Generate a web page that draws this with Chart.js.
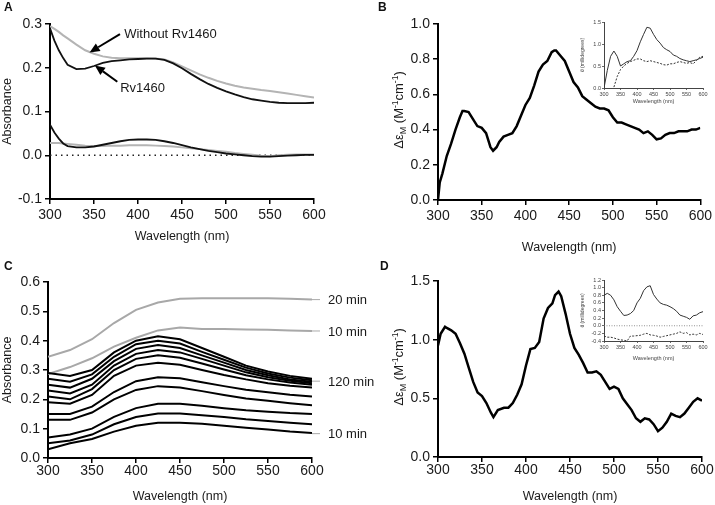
<!DOCTYPE html>
<html><head><meta charset="utf-8">
<script src="https://cdn.jsdelivr.net/npm/chart.js@4"></script>
<style>
body{margin:0;background:#fff;}
#wrap{position:relative;width:715px;height:505px;overflow:hidden;background:#fff;font-family:"Liberation Sans",Arial,sans-serif;}
canvas{position:absolute;}
.lbl{position:absolute;font-weight:bold;font-size:12px;line-height:12px;color:#111;}
</style></head>
<body><div id="wrap">
<canvas id="cA" width="340" height="250" style="left:0;top:0"></canvas>
<canvas id="cB" width="355" height="261" style="left:360px;top:0"></canvas>
<canvas id="cC" width="375" height="255" style="left:0;top:250px"></canvas>
<canvas id="cD" width="355" height="255" style="left:360px;top:250px"></canvas>
<canvas id="cBi" width="130" height="110" style="left:580px;top:0px"></canvas>
<canvas id="cDi" width="130" height="100" style="left:580px;top:265px"></canvas>
<div class="lbl" style="left:4px;top:1px">A</div>
<div class="lbl" style="left:378px;top:1px">B</div>
<div class="lbl" style="left:4px;top:260px">C</div>
<div class="lbl" style="left:380px;top:260px">D</div>
</div>
<script>
// ---------------- data ----------------
const X_TICKS = [300,350,400,450,500,550,600];

// Panel A
const WL_A = [300,305,310,315,320,330,340,350,360,370,380,390,400,410,420,430,440,450,460,470,480,490,500,510,520,530,540,550,560,570,580,590,600];
const A_RV1460 = [0.29,0.262,0.24,0.222,0.207,0.197,0.198,0.204,0.211,0.215,0.217,0.219,0.22,0.221,0.221,0.218,0.21,0.199,0.186,0.174,0.163,0.154,0.146,0.139,0.133,0.128,0.125,0.122,0.12,0.119,0.119,0.119,0.12];
const A_WITHOUT = [0.295,0.289,0.282,0.274,0.267,0.253,0.24,0.232,0.226,0.223,0.222,0.222,0.222,0.222,0.221,0.219,0.212,0.203,0.194,0.185,0.177,0.17,0.164,0.159,0.155,0.152,0.149,0.147,0.144,0.141,0.138,0.135,0.132];
const A_RV1460_DIFF = [0.07,0.052,0.038,0.027,0.021,0.018,0.018,0.02,0.024,0.028,0.032,0.035,0.036,0.036,0.035,0.032,0.028,0.023,0.018,0.014,0.01,0.007,0.004,0.002,0.0,-0.002,-0.003,-0.003,-0.002,-0.001,0.0,0.001,0.001];
const A_WITHOUT_DIFF = [0.028,0.028,0.028,0.027,0.026,0.024,0.022,0.021,0.021,0.022,0.022,0.023,0.023,0.023,0.022,0.021,0.02,0.018,0.016,0.014,0.012,0.01,0.008,0.005,0.003,0.001,-0.001,-0.002,0.0,0.001,0.002,0.002,0.002];
const A_Y_TICKS = [-0.1,0.0,0.1,0.2,0.3];
const A_NOTES = [
  {text:'Without Rv1460', textX:382, textY:0.277, tailX:379.5, tailY:0.277, headX:345, headY:0.235},
  {text:'Rv1460', textX:377.5, textY:0.152, tailX:376.5, tailY:0.168, headX:351, headY:0.205}
];

// Panel B
const WL_B = [300,302,305,310,315,320,325,328,330,335,340,345,350,355,360,363,367,370,375,380,385,390,395,400,405,410,415,420,425,430,433,435,440,445,450,455,460,465,470,475,480,485,490,495,500,505,510,515,520,525,530,535,540,545,550,555,560,565,570,575,580,585,590,595,600];
const B_CD = [0,0.1,0.15,0.25,0.32,0.4,0.47,0.505,0.505,0.5,0.46,0.42,0.41,0.38,0.3,0.28,0.3,0.33,0.36,0.37,0.38,0.42,0.48,0.54,0.58,0.65,0.73,0.77,0.79,0.84,0.85,0.85,0.82,0.79,0.73,0.67,0.64,0.59,0.57,0.55,0.53,0.52,0.52,0.51,0.47,0.44,0.44,0.43,0.42,0.41,0.4,0.38,0.39,0.37,0.345,0.35,0.37,0.38,0.38,0.39,0.39,0.39,0.4,0.4,0.41];
const B_Y_TICKS = [0.0,0.2,0.4,0.6,0.8,1.0];

// Insets
const WL_INSET = [300,310,320,330,340,350,360,370,380,390,400,410,420,430,440,450,460,470,480,490,500,510,520,530,540,550,560,570,580,590,600];
const B_IN_SOLID = [0.0,0.4,0.72,0.84,0.72,0.5,0.55,0.6,0.62,0.72,0.85,1.05,1.22,1.38,1.36,1.22,1.1,1.02,0.92,0.87,0.83,0.75,0.72,0.67,0.64,0.62,0.6,0.62,0.64,0.67,0.7];
const B_IN_DASHED = [null,null,null,0.02,0.26,0.42,0.5,0.56,0.6,0.63,0.66,0.66,0.62,0.6,0.62,0.6,0.58,0.56,0.53,0.52,0.55,0.55,0.58,0.6,0.58,0.56,0.58,0.55,0.62,0.7,0.72];
const B_IN_Y_TICKS = [0.0,0.5,1.0,1.5];
const D_IN_SOLID = [0.8,0.85,0.8,0.68,0.5,0.38,0.27,0.28,0.32,0.4,0.6,0.72,0.92,1.02,1.05,0.82,0.7,0.6,0.56,0.54,0.5,0.45,0.38,0.28,0.25,0.22,0.17,0.26,0.28,0.34,0.37];
const D_IN_DASHED = [-0.27,-0.3,-0.3,-0.32,-0.35,-0.37,-0.38,-0.4,-0.27,-0.27,-0.26,-0.25,-0.22,-0.2,-0.24,-0.25,-0.27,-0.3,-0.28,-0.26,-0.24,-0.22,-0.2,-0.16,-0.2,-0.18,-0.24,-0.22,-0.24,-0.2,-0.23];
const D_IN_Y_TICKS = [-0.4,-0.2,0.0,0.2,0.4,0.6,0.8,1.0,1.2];

// Panel C
const WL_C = [300,325,350,375,400,425,450,475,500,525,550,575,600];
const C_GRAY_20 = [0.345,0.368,0.405,0.46,0.505,0.53,0.543,0.545,0.545,0.545,0.545,0.543,0.54];
const C_GRAY_10 = [0.286,0.31,0.34,0.38,0.41,0.435,0.445,0.44,0.44,0.438,0.437,0.435,0.433];
const C_BLACK_120 = [0.29,0.28,0.30,0.36,0.40,0.415,0.405,0.375,0.345,0.315,0.295,0.28,0.27];
const C_BLACK_9 = [0.27,0.26,0.285,0.345,0.388,0.40,0.39,0.362,0.335,0.308,0.288,0.274,0.265];
const C_BLACK_8 = [0.25,0.24,0.27,0.33,0.372,0.385,0.375,0.35,0.325,0.30,0.282,0.268,0.26];
const C_BLACK_7 = [0.23,0.22,0.25,0.315,0.355,0.368,0.36,0.338,0.315,0.292,0.275,0.263,0.255];
const C_BLACK_6 = [0.21,0.20,0.235,0.30,0.338,0.35,0.342,0.322,0.302,0.282,0.268,0.257,0.25];
const C_BLACK_5 = [0.19,0.185,0.215,0.28,0.315,0.325,0.318,0.30,0.283,0.268,0.255,0.246,0.24];
const C_BLACK_4 = [0.15,0.15,0.175,0.225,0.262,0.275,0.272,0.258,0.245,0.233,0.224,0.216,0.21];
const C_BLACK_3 = [0.13,0.13,0.155,0.20,0.232,0.245,0.24,0.228,0.215,0.203,0.195,0.187,0.18];
const C_BLACK_2 = [0.07,0.08,0.10,0.14,0.17,0.185,0.185,0.178,0.17,0.163,0.158,0.153,0.15];
const C_BLACK_1 = [0.05,0.06,0.08,0.115,0.14,0.152,0.152,0.146,0.14,0.132,0.126,0.12,0.115];
const C_BLACK_10 = [0.03,0.05,0.065,0.09,0.11,0.12,0.12,0.117,0.11,0.103,0.097,0.09,0.085];
const C_Y_TICKS = [0.0,0.1,0.2,0.3,0.4,0.5,0.6];
const C_LABELS = ['20 min','10 min','120 min','10 min'];
const C_LABEL_VALUES = [0.54,0.433,0.262,0.083];

// Panel D
const WL_D = [300,303,308,310,315,320,325,330,335,340,345,350,355,360,363,368,375,380,385,390,395,400,405,410,415,420,425,430,433,437,440,445,450,455,460,465,470,475,480,485,490,495,500,505,510,515,520,525,530,535,540,545,550,555,560,565,570,575,580,585,590,595,600];
const D_CD = [0.95,1.05,1.11,1.1,1.08,1.05,0.97,0.88,0.76,0.64,0.55,0.52,0.46,0.38,0.34,0.4,0.42,0.42,0.46,0.53,0.62,0.78,0.92,0.93,0.98,1.18,1.27,1.31,1.38,1.41,1.37,1.22,1.05,0.93,0.87,0.8,0.72,0.72,0.73,0.7,0.64,0.58,0.6,0.58,0.5,0.45,0.4,0.33,0.3,0.33,0.32,0.28,0.22,0.25,0.3,0.37,0.35,0.34,0.37,0.42,0.47,0.5,0.48];
const D_Y_TICKS = [0.0,0.5,1.0,1.5];

// ---------------- helpers ----------------
const FONT = '"Liberation Sans", Arial, Helvetica, sans-serif';
const pts = (xs, ys) => xs.map((x, i) => ({x: x, y: ys[i]}));
function line(xs, ys, color, width, dash) {
  return {data: pts(xs, ys), borderColor: color, borderWidth: width, borderDash: dash || [],
    pointRadius: 0, showLine: true, fill: false, tension: 0, spanGaps: false};
}
function scales(c) {
  const grid = {drawOnChartArea: false, drawTicks: true, tickLength: c.tickLen, color: c.axisColor, lineWidth: c.tickW};
  const border = {display: true, color: c.axisColor, width: c.axisW};
  return {
    x: {type: 'linear', min: 300, max: 600,
      afterBuildTicks: s => { s.ticks = X_TICKS.map(v => ({value: v})); },
      afterFit: s => { s.height = c.xH; },
      grid: grid, border: border,
      ticks: {color: c.textColor, font: {family: FONT, size: c.tickSize}, padding: c.xPad, maxRotation: 0, autoSkip: false,
        callback: v => String(v)},
      title: {display: true, text: 'Wavelength (nm)', color: c.textColor, font: {family: FONT, size: c.titleSize},
        padding: {top: 0, bottom: c.titlePadB}}},
    y: {type: 'linear', min: c.yMin, max: c.yMax,
      afterBuildTicks: s => { s.ticks = c.yTicks.map(v => ({value: v})); },
      afterFit: s => { s.width = c.yW; },
      grid: grid, border: border,
      ticks: {color: c.textColor, font: {family: FONT, size: c.tickSize}, padding: c.yPad, autoSkip: false,
        callback: v => Number(v).toFixed(1)},
      title: {display: !!c.yTitle, text: c.yTitle || '', color: c.textColor, font: {family: FONT, size: c.yTitleSize || c.titleSize},
        padding: {top: c.yTitlePad || 0, bottom: 0}}}
  };
}
function make(id, datasets, sc, padding, plugins) {
  return new Chart(document.getElementById(id), {
    type: 'scatter',
    data: {datasets: datasets},
    options: {responsive: false, animation: false, devicePixelRatio: 1, events: [],
      layout: {padding: padding},
      plugins: {legend: {display: false}, tooltip: {enabled: false}},
      scales: sc},
    plugins: plugins || []
  });
}
const MAIN = {tickLen: 5, tickW: 1.5, axisColor: '#000', axisW: 2, textColor: '#1a1a1a', tickSize: 14, titleSize: 12.5, xPad: 3, yPad: 3};
const INSET = {tickLen: 2, tickW: 0.8, axisColor: '#444', axisW: 1, textColor: '#444', tickSize: 5.5, titleSize: 5.5, xPad: 1, yPad: 1};

function arrow(ctx, x1, y1, x2, y2) {
  const a = Math.atan2(y2 - y1, x2 - x1), L = 10, W = 4.5;
  const bx = x2 - L * Math.cos(a), by = y2 - L * Math.sin(a);
  ctx.beginPath(); ctx.moveTo(x1, y1); ctx.lineTo(bx, by);
  ctx.lineWidth = 2; ctx.strokeStyle = '#000'; ctx.stroke();
  ctx.beginPath(); ctx.moveTo(x2, y2);
  ctx.lineTo(bx - W * Math.sin(a), by + W * Math.cos(a));
  ctx.lineTo(bx + W * Math.sin(a), by - W * Math.cos(a));
  ctx.closePath(); ctx.fillStyle = '#000'; ctx.fill();
}
const notesPlugin = {id: 'notesA', afterDraw(chart) {
  const ctx = chart.ctx, x = chart.scales.x, y = chart.scales.y;
  ctx.save();
  ctx.font = '13px ' + FONT; ctx.fillStyle = '#1a1a1a'; ctx.textAlign = 'left'; ctx.textBaseline = 'middle';
  A_NOTES.forEach(n => {
    arrow(ctx, x.getPixelForValue(n.tailX), y.getPixelForValue(n.tailY), x.getPixelForValue(n.headX), y.getPixelForValue(n.headY));
    ctx.fillStyle = '#1a1a1a';
    ctx.fillText(n.text, x.getPixelForValue(n.textX) + 2, y.getPixelForValue(n.textY));
  });
  ctx.restore();
}};
const cLabelPlugin = {id: 'labelsC', afterDraw(chart) {
  const ctx = chart.ctx, y = chart.scales.y, r = chart.chartArea.right;
  ctx.save();
  ctx.font = '13px ' + FONT; ctx.textAlign = 'left'; ctx.textBaseline = 'middle';
  C_LABELS.forEach((t, i) => {
    const py = y.getPixelForValue(C_LABEL_VALUES[i]);
    ctx.beginPath(); ctx.moveTo(r, py); ctx.lineTo(r + 8, py);
    ctx.strokeStyle = '#aaa'; ctx.lineWidth = 1; ctx.stroke();
    ctx.fillStyle = '#1a1a1a';
    ctx.fillText(t, r + 16, py + 1);
  });
  ctx.restore();
}};
const cdTitlePlugin = {id: 'cdTitle', afterDraw(chart) {
  const ctx = chart.ctx, a = chart.chartArea;
  const parts = [['\u0394\u03b5', 13, 0], ['M', 9, 3], [' (M', 13, 0], ['-1', 8.5, -5], ['cm', 13, 0], ['-1', 8.5, -5], [')', 13, 0]];
  ctx.save();
  let total = 0;
  parts.forEach(p => { ctx.font = p[1] + 'px ' + FONT; total += ctx.measureText(p[0]).width; });
  ctx.translate(a.left - 38, (a.top + a.bottom) / 2 - 2);
  ctx.rotate(-Math.PI / 2);
  ctx.fillStyle = '#1a1a1a'; ctx.textAlign = 'left'; ctx.textBaseline = 'alphabetic';
  let xx = -total / 2;
  parts.forEach(p => {
    ctx.font = p[1] + 'px ' + FONT;
    ctx.fillText(p[0], xx, 3 + p[2]);
    xx += ctx.measureText(p[0]).width;
  });
  ctx.restore();
}};

// ---------------- Panel A ----------------
make('cA', [
  line(WL_A, A_RV1460, '#111', 1.8),
  line(WL_A, A_RV1460_DIFF, '#111', 1.8),
  line(WL_A, A_WITHOUT, '#b4b4b4', 2),
  line(WL_A, A_WITHOUT_DIFF, '#b4b4b4', 2),
  line([WL_A[0], WL_A[WL_A.length - 1]], [0, 0], '#222', 1.5, [1.5, 4])
], scales(Object.assign({}, MAIN, {yTicks: A_Y_TICKS, yMin: -0.1, yMax: 0.3, yW: 50, xH: 51, yTitle: 'Absorbance', titlePadB: 5.5})),
  {top: 24, right: 26, left: 0, bottom: 0}, [notesPlugin]);

// ---------------- Panel B ----------------
make('cB', [line(WL_B, B_CD, '#000', 2.5)],
  scales(Object.assign({}, MAIN, {yTicks: B_Y_TICKS, yMin: 0, yMax: 1.0, yW: 78, xH: 61, titlePadB: 5.5})),
  {top: 24, right: 13, left: 0, bottom: 0}, [cdTitlePlugin]);

// ---------------- Panel C ----------------
make('cC', [
  line(WL_C, C_BLACK_120, '#000', 2),
  line(WL_C, C_BLACK_9, '#000', 2),
  line(WL_C, C_BLACK_8, '#000', 2),
  line(WL_C, C_BLACK_7, '#000', 2),
  line(WL_C, C_BLACK_6, '#000', 2),
  line(WL_C, C_BLACK_5, '#000', 2),
  line(WL_C, C_BLACK_4, '#000', 2),
  line(WL_C, C_BLACK_3, '#000', 2),
  line(WL_C, C_BLACK_2, '#000', 2),
  line(WL_C, C_BLACK_1, '#000', 2),
  line(WL_C, C_BLACK_10, '#000', 2),
  line(WL_C, C_GRAY_20, '#a8a8a8', 2),
  line(WL_C, C_GRAY_10, '#a8a8a8', 2)
], scales(Object.assign({}, MAIN, {yTicks: C_Y_TICKS, yMin: 0, yMax: 0.6, yW: 48, xH: 47, yTitle: 'Absorbance', titlePadB: 1, xPad: 0})),
  {top: 32, right: 63, left: 0, bottom: 0}, [cLabelPlugin]);

// ---------------- Panel D ----------------
make('cD', [line(WL_D, D_CD, '#000', 2.5)],
  scales(Object.assign({}, MAIN, {yTicks: D_Y_TICKS, yMin: 0, yMax: 1.5, yW: 78, xH: 48, titlePadB: 1, xPad: 0})),
  {top: 31, right: 13, left: 0, bottom: 0}, [cdTitlePlugin]);

// ---------------- Insets ----------------
make('cBi', [
  line(WL_INSET, B_IN_SOLID, '#333', 1),
  line(WL_INSET, B_IN_DASHED, '#333', 1, [2, 1.5])
], scales(Object.assign({}, INSET, {yTicks: B_IN_Y_TICKS, yMin: 0, yMax: 1.5, yW: 24, xH: 22, yTitle: '\u03b8 (millidegrees)', yTitleSize: 5, titlePadB: 5})),
  {top: 22, right: 7, left: 0, bottom: 0});

make('cDi', [
  line(WL_INSET, D_IN_SOLID, '#333', 1),
  line(WL_INSET, D_IN_DASHED, '#333', 1, [2, 1.5]),
  line([WL_INSET[0], WL_INSET[WL_INSET.length - 1]], [0, 0], '#777', 0.8, [1, 1.5])
], scales(Object.assign({}, INSET, {yTicks: D_IN_Y_TICKS, yMin: -0.4, yMax: 1.2, yW: 24, xH: 24, yTitle: '\u03b8 (millidegrees)', yTitleSize: 5, titlePadB: 3})),
  {top: 15, right: 7, left: 0, bottom: 0});
</script>
</body></html>
